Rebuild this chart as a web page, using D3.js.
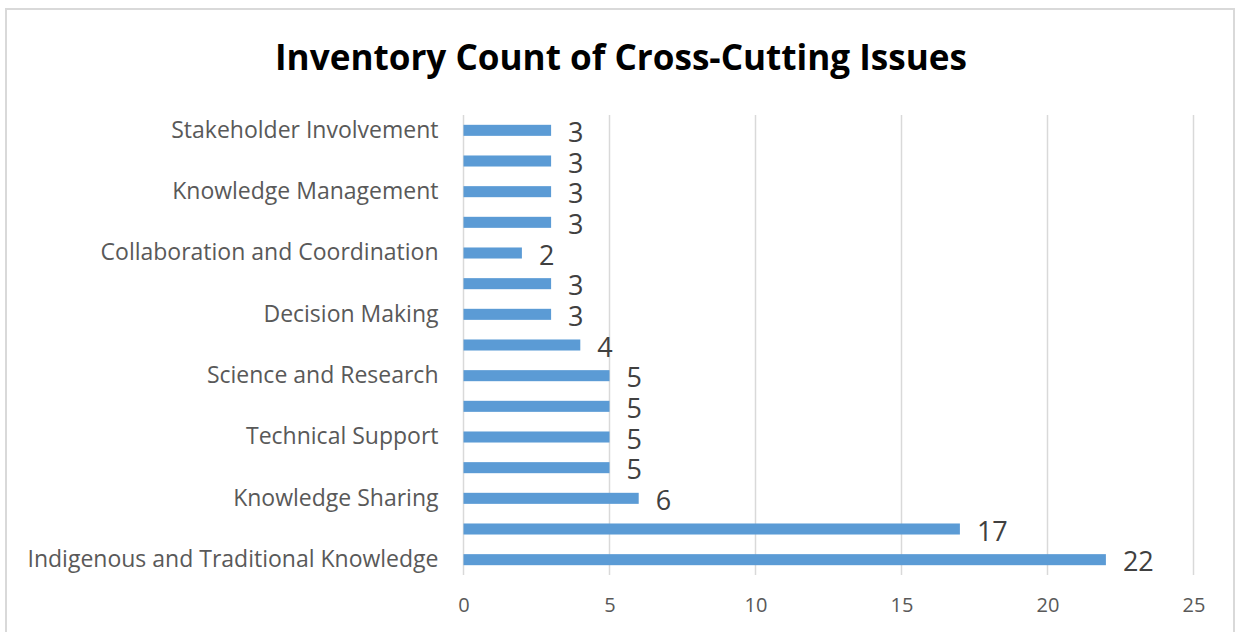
<!DOCTYPE html>
<html>
<head>
<meta charset="utf-8">
<script src="https://cdn.jsdelivr.net/npm/d3@7"></script>
<style>
  body { margin: 0; background: #fff; }
  svg { display: block; }
</style>
</head>
<body>
<svg id="chart"></svg>
<script>
// categories listed top to bottom, only every other one carries a visible label
const labels = [
  'Stakeholder Involvement', '',
  'Knowledge Management', '',
  'Collaboration and Coordination', '',
  'Decision Making', '',
  'Science and Research', '',
  'Technical Support', '',
  'Knowledge Sharing', '',
  'Indigenous and Traditional Knowledge'
]
const counts = [3, 3, 3, 3, 2, 3, 3, 4, 5, 5, 5, 5, 6, 17, 22]
const xTicks = [0, 5, 10, 15, 20, 25]
const title = 'Inventory Count of Cross-Cutting Issues'

const size = { width: 1235, height: 632 }
const margin = { left: 463.5, right: 41.5, top: 115, bottom: 57 }
const barColor = '#5b9bd5'
const gridColor = '#d9d9d9'

const svg = d3.select('#chart')
    .attr('width', size.width)
    .attr('height', size.height)

// chart frame
svg.append('rect')
    .attr('x', 6).attr('y', 9)
    .attr('width', 1228).attr('height', 640)
    .attr('fill', 'none')
    .attr('stroke', gridColor)
    .attr('stroke-width', 2)

svg.append('text')
    .attr('x', 621)
    .attr('y', 69.5)
    .attr('text-anchor', 'middle')
    .attr('font-family', 'Open Sans')
    .attr('font-weight', 'bold')
    .attr('font-size', 36.5)
    .attr('textLength', 692)
    .attr('lengthAdjust', 'spacingAndGlyphs')
    .attr('fill', '#000')
    .text(title)

const x = d3.scaleLinear()
    .domain([0, 25])
    .range([margin.left, size.width - margin.right])

const y = d3.scaleBand()
    .domain(d3.range(counts.length))
    .range([margin.top, size.height - margin.bottom])
    .paddingInner(0.64)
    .paddingOuter(0.32)

// vertical gridlines
svg.append('g')
    .selectAll('line')
    .data(xTicks)
    .join('line')
    .attr('x1', d => x(d)).attr('x2', d => x(d))
    .attr('y1', margin.top).attr('y2', size.height - margin.bottom)
    .attr('stroke', gridColor)
    .attr('stroke-width', 1.5)

// x axis labels
const xAxis = svg.append('g')
    .attr('transform', `translate(0,${size.height - margin.bottom})`)
    .call(d3.axisBottom(x).tickValues(xTicks).tickSize(0).tickPadding(23))
xAxis.select('.domain').remove()
xAxis.selectAll('text')
    .attr('font-family', 'Open Sans')
    .attr('font-size', 20)
    .attr('fill', '#595959')

// category labels
const yAxis = svg.append('g')
    .attr('transform', `translate(${margin.left},0)`)
    .call(d3.axisLeft(y).tickFormat(i => labels[i]).tickSize(0).tickPadding(25))
yAxis.select('.domain').remove()
yAxis.selectAll('text')
    .attr('font-family', 'Open Sans')
    .attr('font-size', 23)
    .attr('fill', '#595959')

// bars
svg.append('g')
    .selectAll('rect')
    .data(counts)
    .join('rect')
    .attr('x', x(0))
    .attr('y', (d, i) => y(i))
    .attr('width', d => x(d) - x(0))
    .attr('height', y.bandwidth())
    .attr('fill', barColor)

// value labels
svg.append('g')
    .selectAll('text')
    .data(counts)
    .join('text')
    .attr('x', d => x(d) + 17)
    .attr('y', (d, i) => y(i) + y.bandwidth() / 2 + 11.5)
    .attr('font-family', 'Open Sans')
    .attr('font-size', 27)
    .attr('fill', '#404040')
    .text(d => d)
</script>
</body>
</html>
